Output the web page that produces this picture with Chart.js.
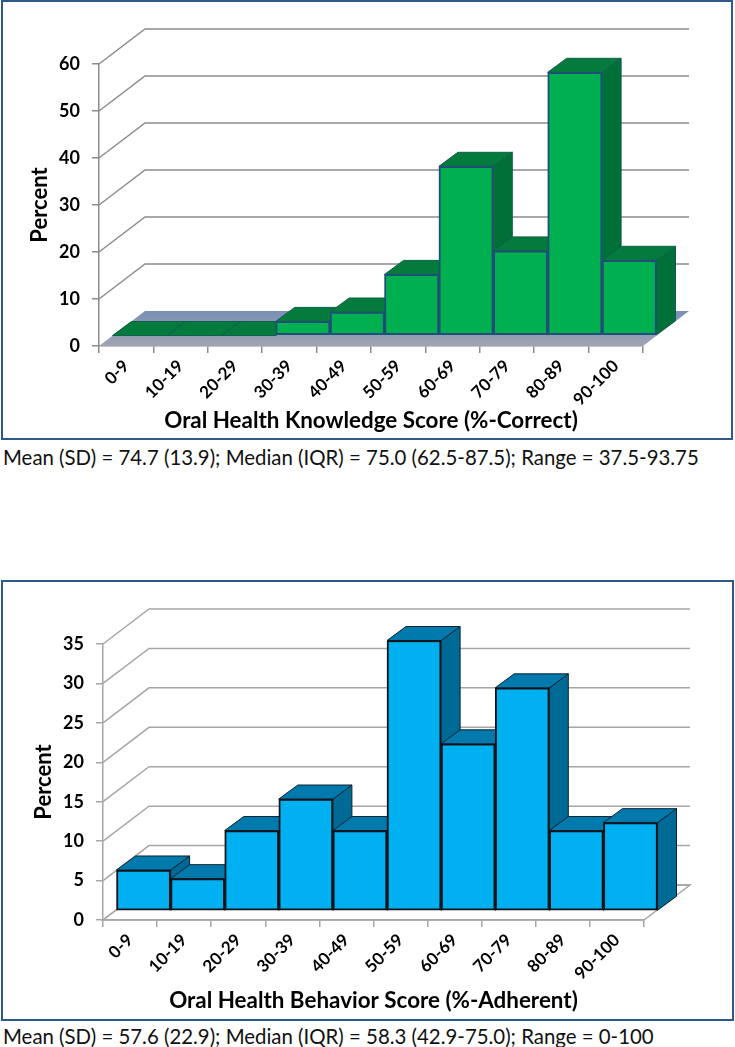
<!DOCTYPE html>
<html>
<head>
<meta charset="utf-8">
<script src="https://cdn.jsdelivr.net/npm/chart.js@4"></script>
<style>
html,body{margin:0;padding:0;background:#fff;width:735px;height:1047px;overflow:hidden}
.frame{position:absolute;box-sizing:border-box;border:2px solid #2c5a8c;background:#fff}
canvas{position:absolute;left:0;top:0}
.cap{position:absolute;left:3px;font-family:Lato,sans-serif;font-size:20.4px;color:#111;white-space:nowrap;line-height:24px}
</style>
</head>
<body>
<div class="frame" style="left:1px;top:0;width:732px;height:440px"></div>
<div class="frame" style="left:1px;top:580px;width:733px;height:441px"></div>
<canvas id="c1" width="735" height="440" style="top:0"></canvas>
<canvas id="c2" width="735" height="440" style="top:581px"></canvas>
<div class="cap" style="top:445px">Mean (SD) = 74.7 (13.9); Median (IQR) = 75.0 (62.5-87.5); Range = 37.5-93.75</div>
<div class="cap" style="top:1024px">Mean (SD) = 57.6 (22.9); Median (IQR) = 58.3 (42.9-75.0); Range = 0-100</div>
<script>
const categories = ['0-9','10-19','20-29','30-39','40-49','50-59','60-69','70-79','80-89','90-100'];
const knowledgeValues = [0,0,0,3,5,13,36,18,56,16];
const behaviorValues = [5.2,4.1,10.2,14.2,10.2,34.3,21.2,28.3,10.2,11.2];

const threeD = {
  id:'threeD',
  beforeDatasetsDraw(chart,args,o){
    const {ctx,scales:{x,y}} = chart;
    const L=x.left,R=x.right,B=y.bottom;
    ctx.save();
    ctx.beginPath();
    ctx.moveTo(L,B);ctx.lineTo(R,B);ctx.lineTo(R+o.wallX,B-o.wallY);ctx.lineTo(L+o.wallX,B-o.wallY);ctx.closePath();
    if(o.floorTop){
      const g=ctx.createLinearGradient(0,B-o.wallY,0,B);
      g.addColorStop(0,o.floorTop);g.addColorStop(1,o.floorBottom);
      ctx.fillStyle=g;ctx.fill();
    }
    ctx.strokeStyle=o.gridColor;ctx.lineWidth=1.5;
    if(!o.floorTop){ctx.stroke();}
    y.ticks.forEach(t=>{
      const p=y.getPixelForValue(t.value);
      if(t.value===0&&o.floorTop){return;}
      ctx.beginPath();
      ctx.moveTo(L,p);ctx.lineTo(L+o.wallX,p-o.wallY);ctx.lineTo(R+o.wallX,p-o.wallY);
      ctx.stroke();
    });
    ctx.restore();
  },
  beforeDatasetDraw(chart,args,o){
    const {ctx}=chart;
    const meta=chart.getDatasetMeta(args.index);
    ctx.save();
    ctx.translate(o.shiftX,-o.shiftY);
    meta.data.forEach(bar=>{
      const p=bar.getProps(['x','y','base','width'],true);
      const l=p.x-p.width/2,r=p.x+p.width/2,t=p.y,b=p.base;
      ctx.lineWidth=1;ctx.strokeStyle=o.faceLine;ctx.lineJoin='round';
      if(b-t>0){
        ctx.beginPath();
        ctx.moveTo(r,t);ctx.lineTo(r+o.depthX,t-o.depthY);ctx.lineTo(r+o.depthX,b-o.depthY);ctx.lineTo(r,b);ctx.closePath();
        ctx.fillStyle=o.sideColor;ctx.fill();ctx.stroke();
      }else{
        ctx.beginPath();
        ctx.moveTo(r,t);ctx.lineTo(r+o.depthX,t-o.depthY);ctx.stroke();
      }
      ctx.beginPath();
      ctx.moveTo(l,t);ctx.lineTo(r,t);ctx.lineTo(r+o.depthX,t-o.depthY);ctx.lineTo(l+o.depthX,t-o.depthY);ctx.closePath();
      ctx.fillStyle=o.topColor;ctx.fill();ctx.stroke();
    });
    ctx.restore();
    ctx.save();
    ctx.translate(o.shiftX,-o.shiftY);
  },
  afterDatasetDraw(chart){chart.ctx.restore();}
};

function makeChart(id,values,c){
  const font={family:'Lato, sans-serif',weight:'bold'};
  return new Chart(document.getElementById(id),{
    type:'bar',
    data:{labels:categories,datasets:[{data:values,backgroundColor:c.front,borderColor:c.edge,borderWidth:c.edgeWidth,borderSkipped:false,barPercentage:1,categoryPercentage:1,clip:false}]},
    plugins:[threeD],
    options:{
      responsive:false,animation:false,devicePixelRatio:1,
      layout:{padding:{left:0,top:c.top,right:735-c.right,bottom:0}},
      plugins:{legend:{display:false},tooltip:{enabled:false},threeD:c.d3},
      scales:{
        x:{
          afterFit(s){s.height=c.xHeight;},
          grid:{offset:true,drawOnChartArea:false,drawTicks:true,tickLength:7,color:c.axis,lineWidth:1.5},
          border:{color:c.axis,width:1.5},
          ticks:{color:'#000',font:{...font,size:17},minRotation:45,maxRotation:45,autoSkip:false,padding:3},
          title:{display:true,text:c.xTitle,color:'#000',font:{...font,size:22.4},padding:{top:0,bottom:c.xTitleBottom}}
        },
        y:{
          afterFit(s){s.width=c.left;},
          min:0,max:c.max,
          grid:{drawOnChartArea:false,drawTicks:true,tickLength:7,color:c.axis,lineWidth:1.5},
          border:{color:c.axis,width:1.5},
          ticks:{color:'#000',font:{...font,size:18},stepSize:c.step,padding:12},
          title:{display:true,text:'Percent',color:'#000',font:{...font,size:22},padding:{top:c.yTitleLeft,bottom:0}}
        }
      }
    }
  });
}

makeChart('c1',knowledgeValues,{
  front:'#00b050',edge:'#1f4e79',edgeWidth:2,axis:'#8c8c8c',
  left:99,right:643,top:64,xHeight:94,max:60,step:10,
  xTitle:'Oral Health Knowledge Score (%-Correct)',xTitleBottom:6,yTitleLeft:27,
  d3:{wallX:46,wallY:35,shiftX:13.5,shiftY:10.5,depthX:19,depthY:14,topColor:'#047b3d',sideColor:'#006f38',faceLine:'#0f5f4c',gridColor:'#8c8c8c',floorTop:'#7b90b6',floorBottom:'#a0a3b2'}
});
makeChart('c2',behaviorValues,{
  front:'#00b0f0',edge:'#101418',edgeWidth:2,axis:'#a6a6a6',
  left:103,right:644,top:63,xHeight:101,max:35,step:5,
  xTitle:'Oral Health Behavior Score (%-Adherent)',xTitleBottom:7,yTitleLeft:31,
  d3:{wallX:46,wallY:35,shiftX:13.5,shiftY:9,depthX:19,depthY:14,topColor:'#0079ad',sideColor:'#006a96',faceLine:'#0b2230',gridColor:'#a6a6a6',floorTop:null,floorBottom:null}
});
</script>
</body>
</html>
